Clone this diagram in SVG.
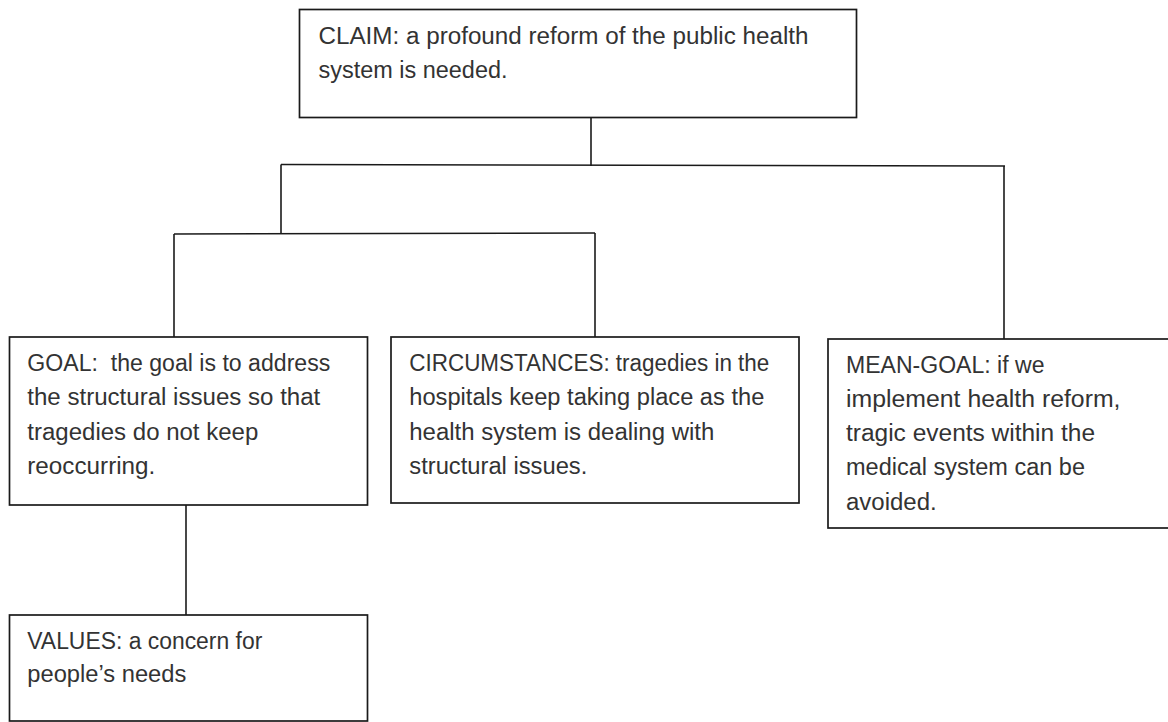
<svg xmlns="http://www.w3.org/2000/svg" width="1168" height="722" viewBox="0 0 1168 722">
<style>
.box{fill:#fff;stroke:#1a1a1a;stroke-width:1.7}
.ln{fill:none;stroke:#1a1a1a;stroke-width:1.6}
text{font-family:"Liberation Sans",Arial,sans-serif;font-size:23px;fill:#333;white-space:pre}
</style>
<rect width="1168" height="722" fill="#fff"/>
<g id="connectors">
<line class="ln" x1="591" y1="117" x2="591" y2="166"/>
<line class="ln" x1="281" y1="164.5" x2="1005" y2="166"/>
<line class="ln" x1="281" y1="164.5" x2="281" y2="234"/>
<line class="ln" x1="174" y1="234" x2="595" y2="233"/>
<line class="ln" x1="174" y1="234" x2="174" y2="337"/>
<line class="ln" x1="595" y1="233" x2="595" y2="337"/>
<line class="ln" x1="1004" y1="166" x2="1004" y2="339"/>
<line class="ln" x1="186" y1="505" x2="186" y2="615"/>
</g>
<g id="claim">
<rect class="box" x="299.5" y="9.5" width="557" height="108"/>
<text x="318.5" y="43.5" textLength="490" lengthAdjust="spacingAndGlyphs">CLAIM: a profound reform of the public health</text>
<text x="318.5" y="77.8" textLength="189" lengthAdjust="spacingAndGlyphs">system is needed.</text>
</g>
<g id="goal">
<rect class="box" x="9.5" y="337" width="358" height="168"/>
<text x="27.3" y="371" textLength="303" lengthAdjust="spacingAndGlyphs" xml:space="preserve">GOAL:  the goal is to address</text>
<text x="27.3" y="405.3" textLength="293" lengthAdjust="spacingAndGlyphs">the structural issues so that</text>
<text x="27.3" y="439.6" textLength="231" lengthAdjust="spacingAndGlyphs">tragedies do not keep</text>
<text x="27.3" y="474" textLength="128" lengthAdjust="spacingAndGlyphs">reoccurring.</text>
</g>
<g id="circumstances">
<rect class="box" x="391" y="337" width="408" height="166"/>
<text x="409.3" y="371" textLength="360" lengthAdjust="spacingAndGlyphs">CIRCUMSTANCES: tragedies in the</text>
<text x="409.3" y="405.3" textLength="355" lengthAdjust="spacingAndGlyphs">hospitals keep taking place as the</text>
<text x="409.3" y="439.6" textLength="305" lengthAdjust="spacingAndGlyphs">health system is dealing with</text>
<text x="409.3" y="474" textLength="178" lengthAdjust="spacingAndGlyphs">structural issues.</text>
</g>
<g id="mean-goal">
<rect class="box" x="828" y="339" width="360" height="189"/>
<text x="846" y="372.5" textLength="198.5" lengthAdjust="spacingAndGlyphs">MEAN-GOAL: if we</text>
<text x="846" y="406.8" textLength="274.5" lengthAdjust="spacingAndGlyphs">implement health reform,</text>
<text x="846" y="441.1" textLength="249" lengthAdjust="spacingAndGlyphs">tragic events within the</text>
<text x="846" y="475.4" textLength="239" lengthAdjust="spacingAndGlyphs">medical system can be</text>
<text x="846" y="509.7" textLength="90.7" lengthAdjust="spacingAndGlyphs">avoided.</text>
</g>
<g id="values">
<rect class="box" x="9.5" y="615" width="358" height="106"/>
<text x="27.3" y="648.5" textLength="235" lengthAdjust="spacingAndGlyphs">VALUES: a concern for</text>
<text x="27.3" y="682" textLength="159" lengthAdjust="spacingAndGlyphs">people’s needs</text>
</g>
</svg>
